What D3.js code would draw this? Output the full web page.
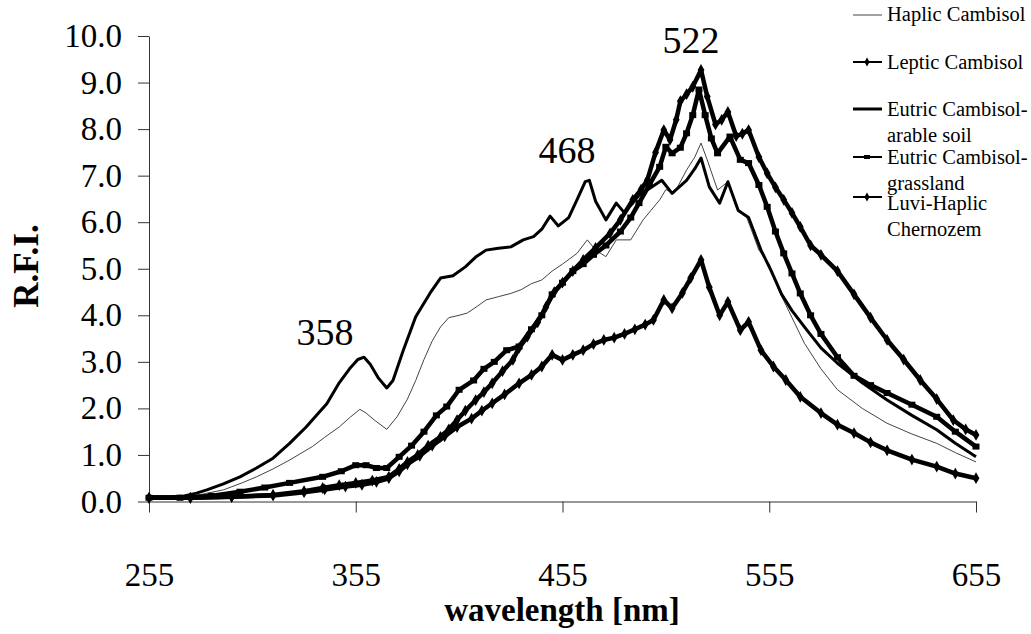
<!DOCTYPE html>
<html>
<head>
<meta charset="utf-8">
<script src="https://cdn.jsdelivr.net/npm/d3@7"></script>
<style>
  html, body { margin: 0; padding: 0; background: #fff; }
  svg { display: block; font-family: "Liberation Serif", "Times New Roman", serif; }
</style>
</head>
<body>
<svg id="chart" width="1031" height="634"></svg>
<script>
// ---- data (wavelength nm, relative fluorescence intensity) ----
const xTicks = [255, 355, 455, 555, 655];
const yTicks = [0, 1, 2, 3, 4, 5, 6, 7, 8, 9, 10];
const seriesNames = ["Haplic Cambisol", "Leptic Cambisol", "Eutric Cambisol-arable soil", "Eutric Cambisol-grassland", "Luvi-Haplic Chernozem"];
const peakLabels = [358, 468, 522];

const haplic = [[255,0.08],[265,0.08],[272,0.1],[280,0.15],[291,0.25],[300,0.4],[307,0.53],[315,0.7],[323,0.89],[334,1.18],[340,1.38],[347,1.6],[352,1.8],[357,1.98],[360,1.9],[364,1.75],[370,1.55],[375,1.82],[380,2.2],[384,2.6],[388,3.05],[392,3.45],[396,3.75],[400,3.95],[405,4.0],[409,4.05],[414,4.2],[418,4.33],[424,4.4],[430,4.47],[435,4.55],[440,4.68],[445,4.76],[450,4.95],[455,5.1],[462,5.33],[467,5.62],[471,5.4],[476,5.26],[481,5.62],[488,5.62],[494,6.05],[502,6.48],[505,6.7],[509,6.62],[515,7.12],[519,7.4],[522,7.7],[525,7.34],[530,6.69],[535,6.87],[539,6.33],[544,6.12],[550,5.4],[555,5.1],[560,4.5],[566,3.95],[572,3.4],[580,2.85],[588,2.4],[600,2.0],[612,1.68],[624,1.45],[636,1.25],[645,1.05],[655,0.85]];

const leptic = [[255,0.08],[275,0.08],[295,0.1],[315,0.14],[330,0.22],[339,0.29],[347,0.35],[355,0.4],[363,0.45],[371,0.53],[376,0.7],[380,0.85],[385,1.0],[390,1.2],[396,1.39],[400,1.55],[404,1.75],[408,1.95],[413,2.18],[417,2.35],[421,2.54],[426,2.8],[431,3.04],[434,3.3],[438,3.54],[443,3.85],[447,4.18],[451,4.5],[455,4.7],[460,4.95],[465,5.19],[471,5.45],[478,5.76],[483,6.05],[489,6.48],[493,6.7],[496,6.9],[500,7.5],[504,7.98],[507,7.77],[510,8.2],[512,8.6],[515,8.75],[518,8.91],[522,9.27],[525,8.7],[529,8.1],[532,8.2],[535,8.37],[539,7.85],[542,7.9],[545,7.98],[550,7.4],[554,7.05],[558,6.75],[562,6.48],[566,6.2],[570,5.9],[575,5.5],[580,5.3],[588,4.95],[596,4.45],[604,3.95],[612,3.47],[620,3.05],[628,2.61],[636,2.2],[644,1.75],[650,1.55],[655,1.43]];

const arable = [[255,0.1],[265,0.1],[272,0.12],[278,0.18],[283,0.25],[291,0.38],[299,0.53],[307,0.72],[315,0.93],[323,1.25],[331,1.6],[337,1.9],[341,2.1],[347,2.55],[352,2.85],[356,3.05],[359,3.1],[362,2.95],[366,2.65],[370,2.44],[373,2.6],[378,3.25],[384,3.97],[391,4.48],[396,4.8],[402,4.85],[408,5.04],[413,5.25],[418,5.4],[424,5.44],[430,5.47],[436,5.62],[441,5.69],[445,5.85],[449,6.13],[453,5.92],[458,6.1],[462,6.48],[466,6.87],[468,6.9],[471,6.45],[476,6.05],[481,6.41],[485,6.2],[492,6.58],[498,6.75],[503,6.9],[508,6.62],[515,6.9],[519,7.15],[522,7.38],[526,6.76],[531,6.41],[535,6.87],[540,6.25],[545,6.1],[551,5.4],[556,4.95],[561,4.45],[566,4.1],[572,3.75],[580,3.3],[588,2.97],[600,2.55],[612,2.18],[624,1.85],[636,1.54],[645,1.25],[655,0.96]];

const grassland = [[255,0.08],[270,0.08],[285,0.12],[299,0.21],[311,0.3],[323,0.4],[339,0.53],[348,0.65],[355,0.78],[360,0.78],[365,0.72],[370,0.72],[376,0.96],[382,1.2],[388,1.5],[394,1.85],[399,2.04],[405,2.4],[412,2.6],[417,2.85],[422,3.0],[428,3.25],[434,3.33],[440,3.7],[445,4.0],[450,4.45],[455,4.7],[460,4.95],[465,5.1],[470,5.3],[476,5.5],[483,5.8],[488,6.1],[492,6.41],[497,6.8],[502,7.19],[505,7.62],[508,7.48],[512,7.6],[515,7.91],[518,8.3],[521,8.85],[524,8.3],[527,7.8],[530,7.48],[536,7.84],[541,7.34],[545,7.27],[550,6.8],[554,6.33],[558,5.8],[562,5.33],[566,4.9],[570,4.47],[575,4.0],[580,3.6],[588,3.1],[596,2.7],[604,2.5],[612,2.33],[624,2.08],[636,1.82],[645,1.5],[655,1.18]];

const luvi = [[255,0.08],[275,0.08],[295,0.1],[315,0.13],[330,0.2],[340,0.26],[350,0.32],[358,0.36],[365,0.42],[371,0.5],[376,0.65],[380,0.8],[386,0.98],[392,1.2],[398,1.4],[404,1.6],[411,1.78],[416,1.95],[421,2.11],[427,2.3],[434,2.54],[440,2.72],[445,2.9],[450,3.15],[455,3.04],[460,3.15],[465,3.25],[470,3.38],[475,3.47],[480,3.52],[485,3.6],[490,3.7],[495,3.8],[499,3.9],[504,4.33],[508,4.15],[513,4.48],[517,4.8],[522,5.19],[526,4.6],[531,4.0],[535,4.29],[541,3.68],[545,3.86],[551,3.25],[557,2.9],[563,2.61],[570,2.25],[580,1.9],[588,1.65],[596,1.47],[604,1.27],[612,1.1],[624,0.9],[636,0.75],[645,0.6],[655,0.5]];

// ---- layout ----
const svg = d3.select("#chart");
const x = d3.scaleLinear().domain([255, 655]).range([149, 976]);
const y = d3.scaleLinear().domain([0, 10]).range([501.5, 36]);

const styles = [
  { data: haplic,    width: 1,   color: "#444", marker: null },
  { data: leptic,    width: 4.5, color: "#000", marker: "diamond" },
  { data: arable,    width: 3,   color: "#000", marker: null },
  { data: grassland, width: 4.5, color: "#000", marker: "dash" },
  { data: luvi,      width: 4.5, color: "#000", marker: "diamond" }
];

// axes
const yAxis = d3.axisLeft(y).tickValues(yTicks).tickSize(11).tickSizeOuter(0).tickPadding(16)
  .tickFormat(d3.format(".1f"));
const gy = svg.append("g").attr("transform", `translate(${x.range()[0]},0)`).call(yAxis);
gy.selectAll("text").attr("font-size", 33).attr("fill", "#000")
  .attr("font-family", "'Liberation Serif','Times New Roman',serif");
gy.selectAll("line, path").attr("stroke", "#333");

const xAxis = d3.axisBottom(x).tickValues(xTicks).tickSize(11).tickSizeOuter(0).tickPadding(50);
const gx = svg.append("g").attr("transform", `translate(0,${y(0)})`).call(xAxis);
gx.selectAll("text").attr("font-size", 33).attr("fill", "#000")
  .attr("font-family", "'Liberation Serif','Times New Roman',serif");
gx.selectAll("line, path").attr("stroke", "#333");

// axis titles
svg.append("text").attr("x", 562).attr("y", 621).attr("text-anchor", "middle")
  .attr("font-size", 33).attr("font-weight", "bold").text("wavelength [nm]");
svg.append("text").attr("transform", "translate(38,266) rotate(-90)").attr("text-anchor", "middle")
  .attr("font-size", 35).attr("font-weight", "bold").text("R.F.I.");

// lines
const line = d3.line().x(d => x(d[0])).y(d => y(d[1]));
const diamond = d3.symbol().type(d3.symbolDiamond).size(40);
styles.forEach(s => {
  svg.append("path").datum(s.data).attr("d", line)
    .attr("fill", "none").attr("stroke", s.color).attr("stroke-width", s.width)
    .attr("stroke-linejoin", "round");
  if (s.marker === "diamond") {
    svg.append("g").selectAll("path").data(s.data).join("path")
      .attr("d", diamond).attr("transform", d => `translate(${x(d[0])},${y(d[1])})`)
      .attr("fill", "#000");
  } else if (s.marker === "dash") {
    svg.append("g").selectAll("rect").data(s.data).join("rect")
      .attr("x", d => x(d[0]) - 3.5).attr("y", d => y(d[1]) - 3)
      .attr("width", 7).attr("height", 6).attr("fill", "#000");
  }
});

// peak annotations
const annotPos = [[325, 345], [567, 163], [691, 53]];
peakLabels.forEach((p, i) => {
  svg.append("text").attr("x", annotPos[i][0]).attr("y", annotPos[i][1])
    .attr("text-anchor", "middle").attr("font-size", 38).text(p);
});

// legend
const legendRows = [
  { lines: ["Haplic Cambisol"], ly: 15, base: 21 },
  { lines: ["Leptic Cambisol"], ly: 62, base: 69 },
  { lines: ["Eutric Cambisol-", "arable soil"], ly: 109, base: 116 },
  { lines: ["Eutric Cambisol-", "grassland"], ly: 157, base: 164 },
  { lines: ["Luvi-Haplic", "Chernozem"], ly: 197, base: 210 }
];
const lg = svg.append("g").attr("font-size", 20.5);
legendRows.forEach((r, i) => {
  const s = styles[i];
  lg.append("line").attr("x1", 853).attr("x2", 882).attr("y1", r.ly).attr("y2", r.ly)
    .attr("stroke", s.color).attr("stroke-width", s.marker ? 2 : s.width);
  if (s.marker === "diamond") {
    lg.append("path").attr("d", d3.symbol().type(d3.symbolDiamond).size(24))
      .attr("transform", `translate(867,${r.ly})`).attr("fill", "#000");
  } else if (s.marker === "dash") {
    lg.append("rect").attr("x", 864).attr("y", r.ly - 2).attr("width", 6).attr("height", 4).attr("fill", "#000");
  }
  r.lines.forEach((t, j) => {
    lg.append("text").attr("x", 887).attr("y", r.base + j * 26).text(t);
  });
});
</script>
</body>
</html>
